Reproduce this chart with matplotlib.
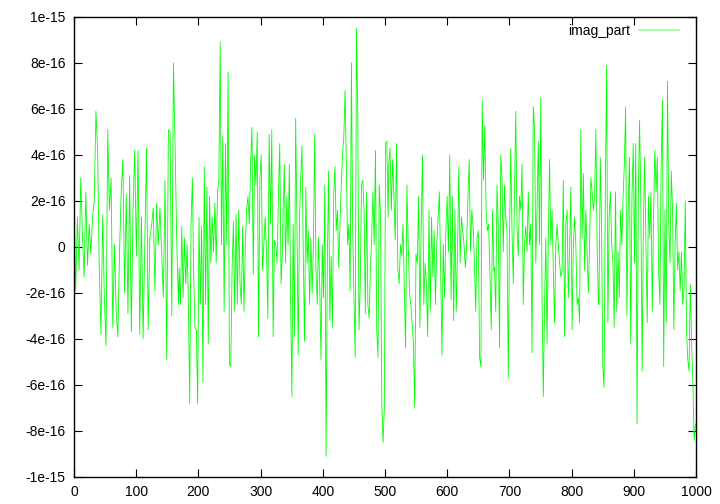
#!/usr/bin/env python3
"""
Imaginary part of a transform, plotted gnuplot-style.
"""

import numpy as np
import matplotlib
matplotlib.use("Agg")
import matplotlib.pyplot as plt

# values in units of 1e-16
# each segment: (first sample index, last sample index, values)
seg_a = [2.2, -1.9, 1.3, -1.0, 3.0, 0.5, -1.3, 2.4, -0.8, 1.0, -0.3, 1.3, 2.0, 5.9,
         4.2, -1.0, -3.8, 1.4, -2.2, -4.3, 5.1, 1.6, 3.0, -3.5, 0.1, -2.8, -3.9, -0.2,
         2.4, 3.8, -2.0, 2.3, -2.9, 3.1, -3.7, 1.6, 4.2, -0.4, 4.2, -3.8, 1.3, -4.0,
         0.1, 4.3, -3.6, 0.4, 0.9, 1.7, -1.9, 1.9, 0.1, 1.7, -0.2, -2.2, 2.9, -4.9,
         5.1, 5.0, -3.0, 8.0, 4.2, 0.1, -2.5]
seg_b = [-0.9, -2.5, 0.9, -2.2, 0.4, -1.6, 0.1, -2.5, -6.8, 1.0, 3.0, -1.3, -3.5, -3.6,
         -6.8, 1.3, -2.5, 0.9, -5.9, 3.5, -2.5, 2.6, -4.2, 2.2, -0.7, 1.3, -0.2, 1.9,
         -0.7, 2.4, 2.9, 8.9, 0.1, 4.8, -2.8, 4.5, 0.1, 7.6, -5.1, -5.2, -1.0, 1.1,
         -2.8, 1.4, -2.5, 1.6, -1.6, -2.5, 0.9, -2.8, 0.1, 1.6, 2.2, 1.0, 3.6, 5.2,
         -1.2, 4.0, 2.7, 5.0, -3.9, 3.0, 4.0, -1.0, 0.1, 1.3, -0.2, -3.1, 4.9, 1.0,
         5.1, -3.9, 0.3, 0.1, -0.7, 2.2, 4.5, -1.6, -0.2]
seg_c = [1.3, 3.6, -0.7, 2.2, 0.1, 3.6, -2.2, -6.5, 1.0, -3.9, 5.6, 1.0, -4.7, 1.3,
         3.0, 4.4, -0.4, -4.1, 2.6, -0.7, 0.7, -2.5, 0.4, -2.0, 0.1, 4.9, -1.0, -2.5,
         0.4, -1.7, -4.9, 0.1, -2.2, 2.7, -9.1, -0.7, 3.3, -3.2, -0.4, -3.5, 2.2, 3.5,
         0.7, 1.6, -0.9, 1.0, 2.7, 4.0, 4.8, 6.8, 3.6, 0.1, 1.0, -1.9, 8.0, 0.9, -2.2,
         -4.8, 9.5, 5.9, -3.6, -1.6, 2.7, 2.9, 1.6, -2.9, 2.4, -2.5, -3.1, -1.0, 0.4,
         2.4, 0.1, 4.2, -3.6, -4.8, 2.7, 1.4, -6.8, -8.5, -7.0, 4.5, 4.6, 1.3]
seg_d = [3.6, 4.3, 1.6, 3.8, 2.2, 0.3, 4.5, -1.0, -1.6, 0.1, -0.4, 1.0, -1.9, -4.4,
         2.7, 0.1, -2.0, -2.5, -3.3, -4.2, -7.0, -0.3, -0.7, 2.2, -3.5, 1.0, 4.0, -2.5,
         -0.7, -1.6, -3.9, 1.6, -2.8, 1.3, -1.3, 0.7, -2.5, 0.1, 1.3, 2.4, -1.0, -4.7,
         0.1, -2.2, 0.7, 2.2, -0.2, 4.0, -2.3, 2.2, -3.2, 1.6, -2.8, -0.2, 3.5, -0.7,
         1.3, 0.7, 0.1, -0.9, 0.1, 2.2, 3.8, -0.2, 1.6, 0.9, -0.7, -2.8, 0.4, 0.7,
         -4.8, -5.2, 6.4, 2.9, 5.3, 1.6, 0.7, 1.0, -1.3, -3.6, 1.6, -1.0]
seg_e = [-0.9, -2.8, 2.7, 1.0, -4.4, 4.0, 3.0, -0.2, 2.7, 1.3, 0.7, -5.7, 0.4, 4.3,
         0.7, -1.6, 2.4, 5.9, 0.9, -0.4, 2.2, 1.6, 3.6, -2.5, 0.1, 0.9, -0.2, 2.4, 0.1,
         1.0, -4.6, 6.1, 5.1, -0.7, 1.7, 4.6, 0.1, 6.5, -2.2, -6.5, -2.5, 0.4, -4.2,
         0.3, 3.8, 0.1, 1.6, -1.0, -3.3, 0.1, 1.0, 0.1, -0.7, -1.3, -1.0, 2.9, -3.9,
         1.0, 1.6, -2.2, -0.2, 2.6, -3.6, 0.1, 1.3, 0.1, -2.5, -2.2, -3.3, 5.1, 0.4,
         3.2, -1.0, 1.6, -0.2, -2.0, 0.1, 3.0, 2.4, 1.6, 2.2, 5.1, 0.1, -2.5]
seg_f = [-2.5, 3.9, 1.0, -5.2, -6.1, 2.4, 7.9, -3.3, 1.3, 2.4, 0.1, -0.7, -3.5, 2.4,
         -2.8, -0.2, -2.2, 1.6, 0.1, 2.2, 3.6, 6.1, -3.0, 1.6, 3.9, -4.2, 2.2, 4.5,
         -0.7, 4.5, -7.7, 2.2, 5.5, 1.9, -5.4, 1.0, 3.9, 0.1, -3.3, 2.2, 0.4, 2.4,
         -2.8, 1.3, 4.2, 2.4, 3.9, -1.0, -2.5, 3.6, 6.4, -5.2, 1.6, -3.3, 7.2, 1.0,
         -0.7, 3.3, 1.6, -3.6, 0.1, 1.9, -1.0, -0.2, -1.9, -0.2, -2.5, -1.9, 2.0,
         -3.6, -4.9, -5.4, -1.6, -4.2, -5.9, -8.4, -7.7]

segments = [(0, 168, seg_a), (169, 335, seg_b), (336, 505, seg_c),
            (506, 675, seg_d), (676, 843, seg_e), (844, 999, seg_f)]

y_ticks = [-1e-15, -8e-16, -6e-16, -4e-16, -2e-16, 0, 2e-16, 4e-16, 6e-16, 8e-16, 1e-15]
y_labels = ["-1e-15", "-8e-16", "-6e-16", "-4e-16", "-2e-16", "0",
            "2e-16", "4e-16", "6e-16", "8e-16", "1e-15"]
x_ticks = [0, 100, 200, 300, 400, 500, 600, 700, 800, 900, 1000]

xs = []
ys = []
for start, stop, vals in segments:
    xs.append(np.linspace(start, stop, len(vals)))
    ys.append(np.array(vals) * 1e-16)
x = np.concatenate(xs)
y = np.concatenate(ys)

plt.rcParams['font.family'] = ['Liberation Sans', 'DejaVu Sans']

fig = plt.figure(figsize=(7.2, 5.04), dpi=100)
ax = fig.add_axes([0.1028, 0.0536, 0.8639, 0.9127])

ax.plot(x, y, color='#00ff00', lw=0.6, label='imag_part')

ax.set_xlim(0, 1000)
ax.set_ylim(-1e-15, 1e-15)
ax.set_xticks(x_ticks)
ax.set_yticks(y_ticks)
ax.set_yticklabels(y_labels)
ax.tick_params(direction='in', length=6, width=0.8, labelsize=10,
               top=True, right=True, pad=6)
for sp in ax.spines.values():
    sp.set_linewidth(1.0)

leg = ax.legend(loc='upper right', bbox_to_anchor=(0.973, 0.985), frameon=False,
                markerfirst=False, fontsize=10, handlelength=2.9,
                handletextpad=0.65, borderpad=0, borderaxespad=0)
for h in leg.get_lines():
    h.set_color('#99ff99')
    h.set_linewidth(1.2)

fig.savefig("out.png", dpi=100)
